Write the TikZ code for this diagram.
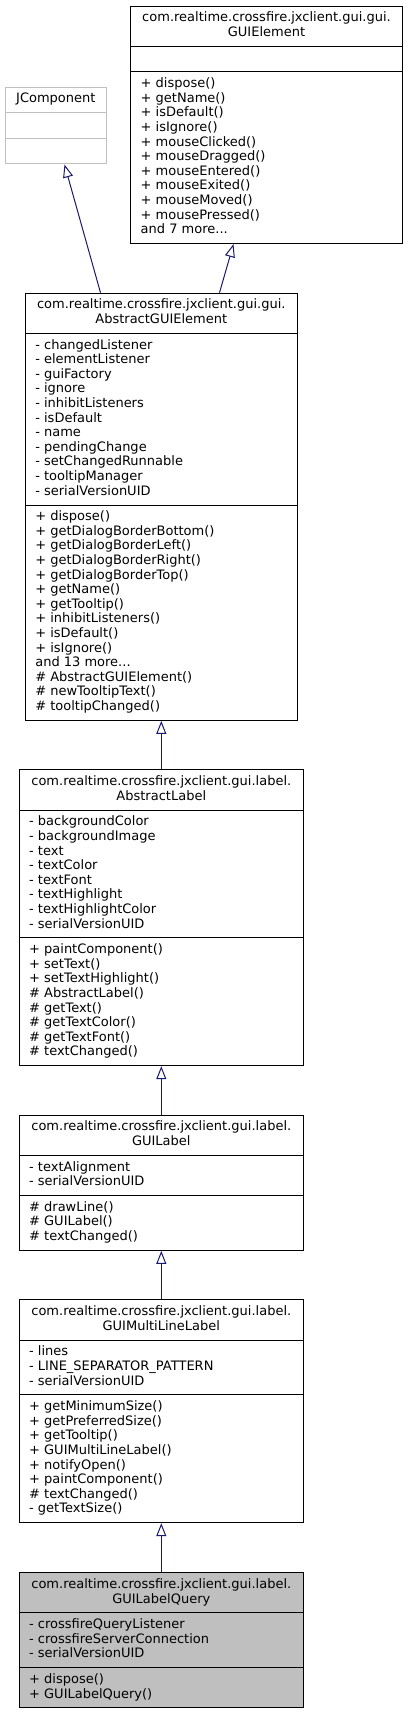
\documentclass[tikz,border=0pt]{standalone}
\usepackage{fontspec}
\setmainfont{DejaVu Sans}
\usepackage{xcolor}
\usepackage{tikz}
\usetikzlibrary{shapes.multipart, arrows.meta, positioning}
\definecolor{edgeblue}{RGB}{25,25,112}
\newcommand{\umltitle}[2]{\begin{tabular}{@{}c@{}}#1\\#2\end{tabular}}
\newcommand{\umllist}[1]{\begin{tabular}{@{}l@{}}#1\end{tabular}}
\tikzstyle{umlclass} = [rectangle split, rectangle split parts=3, rectangle split part align={center,left,left}, draw=black, fill=white, line width=1pt, minimum width=284.3pt, inner xsep=10pt, inner ysep=5pt, font=\fontsize{13}{14.6}\selectfont]
\tikzstyle{focusclass} = [umlclass, fill=black!25]
\tikzstyle{extclass} = [umlclass, draw=black!25]
\tikzstyle{inherit} = [draw=edgeblue, line width=1pt, -{Triangle[open, length=13pt, width=10pt]}]

\begin{document}
\begin{tikzpicture}[x=1pt, y=1pt, node distance=48.5pt]
    \useasboundingbox (0,0) rectangle (408,-1712);
    \node (jcomp) [extclass, minimum width=101.7pt, anchor=north] at (55.85,-86.7)
        {\strut JComponent \nodepart{second}\strut \nodepart{third}\strut};
    \node (guielem) [umlclass, minimum width=271.6pt, anchor=north] at (266.5,-5.7)
        {\umltitle{com.realtime.crossfire.jxclient.gui.gui.}{GUIElement}
         \nodepart{second}\strut
         \nodepart{third}\umllist{+ dispose()\\ + getName()\\ + isDefault()\\ + isIgnore()\\ + mouseClicked()\\ + mouseDragged()\\ + mouseEntered()\\ + mouseExited()\\ + mouseMoved()\\ + mousePressed()\\ and 7 more...}};
    \node (agui) [umlclass, minimum width=272pt, anchor=north] at (161.3,-292.7)
        {\umltitle{com.realtime.crossfire.jxclient.gui.gui.}{AbstractGUIElement}
         \nodepart{second}\umllist{- changedListener\\ - elementListener\\ - guiFactory\\ - ignore\\ - inhibitListeners\\ - isDefault\\ - name\\ - pendingChange\\ - setChangedRunnable\\ - tooltipManager\\ - serialVersionUID}
         \nodepart{third}\umllist{+ dispose()\\ + getDialogBorderBottom()\\ + getDialogBorderLeft()\\ + getDialogBorderRight()\\ + getDialogBorderTop()\\ + getName()\\ + getTooltip()\\ + inhibitListeners()\\ + isDefault()\\ + isIgnore()\\ and 13 more...\\ \# AbstractGUIElement()\\ \# newTooltipText()\\ \# tooltipChanged()}};
    \node (alabel) [umlclass, below=of agui]
        {\umltitle{com.realtime.crossfire.jxclient.gui.label.}{AbstractLabel}
         \nodepart{second}\umllist{- backgroundColor\\ - backgroundImage\\ - text\\ - textColor\\ - textFont\\ - textHighlight\\ - textHighlightColor\\ - serialVersionUID}
         \nodepart{third}\umllist{+ paintComponent()\\ + setText()\\ + setTextHighlight()\\ \# AbstractLabel()\\ \# getText()\\ \# getTextColor()\\ \# getTextFont()\\ \# textChanged()}};
    \node (guilabel) [umlclass, below=of alabel]
        {\umltitle{com.realtime.crossfire.jxclient.gui.label.}{GUILabel}
         \nodepart{second}\umllist{- textAlignment\\ - serialVersionUID}
         \nodepart{third}\umllist{\# drawLine()\\ \# GUILabel()\\ \# textChanged()}};
    \node (multilabel) [umlclass, below=of guilabel]
        {\umltitle{com.realtime.crossfire.jxclient.gui.label.}{GUIMultiLineLabel}
         \nodepart{second}\umllist{- lines\\ - LINE\_SEPARATOR\_PATTERN\\ - serialVersionUID}
         \nodepart{third}\umllist{+ getMinimumSize()\\ + getPreferredSize()\\ + getTooltip()\\ + GUIMultiLineLabel()\\ + notifyOpen()\\ + paintComponent()\\ \# textChanged()\\ - getTextSize()}};
    \node (querylabel) [focusclass, below=49pt of multilabel]
        {\umltitle{com.realtime.crossfire.jxclient.gui.label.}{GUILabelQuery}
         \nodepart{second}\umllist{- crossfireQueryListener\\ - crossfireServerConnection\\ - serialVersionUID}
         \nodepart{third}\umllist{+ dispose()\\ + GUILabelQuery()}};

    \draw [inherit] ([xshift=75.7pt]agui.north west) -- ([xshift=60pt]jcomp.south west);
    \draw [inherit] ([xshift=194.7pt]agui.north west) -- ([xshift=103.3pt]guielem.south west);
    \draw [inherit] (alabel.north) -- (agui.south);
    \draw [inherit] (guilabel.north) -- (alabel.south);
    \draw [inherit] (multilabel.north) -- (guilabel.south);
    \draw [inherit] (querylabel.north) -- (multilabel.south);
\end{tikzpicture}
\end{document}
